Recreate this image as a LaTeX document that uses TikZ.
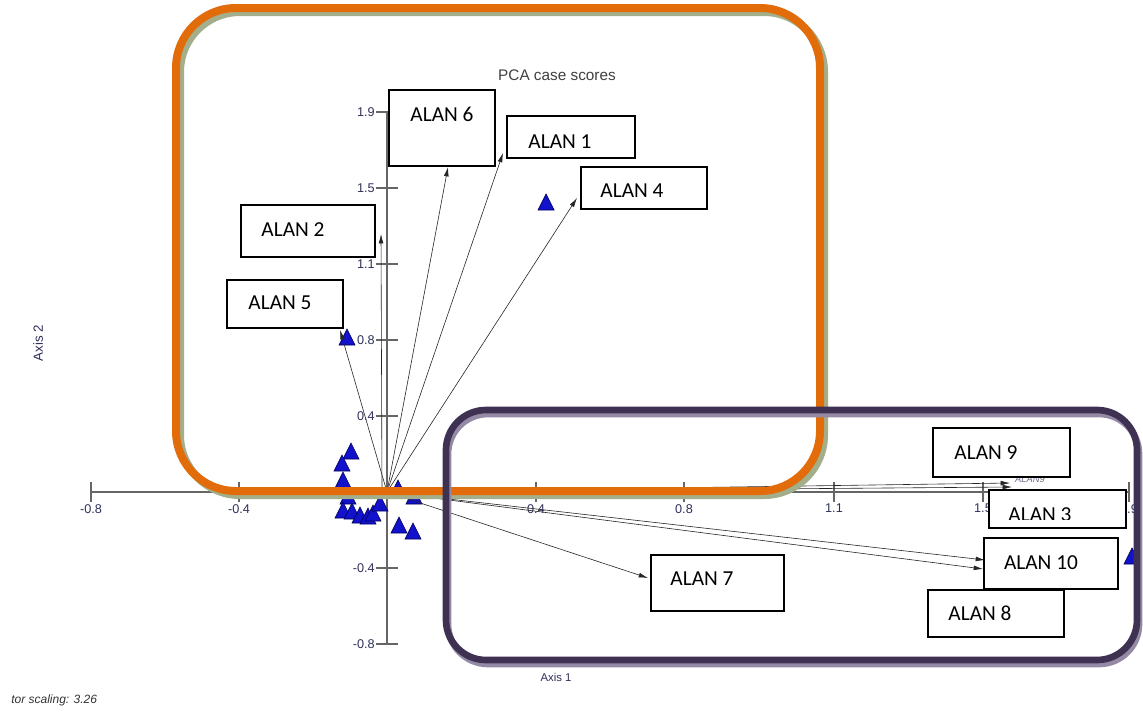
\documentclass[tikz,border=0pt]{standalone}
\usepackage{fontspec}
\setmainfont{Liberation Sans}
\newfontfamily\calfont{Carlito}
\usetikzlibrary{arrows.meta,fit}
\definecolor{orng}{HTML}{E36C0A}
\definecolor{oshadow}{HTML}{A3AE8A}
\definecolor{purp}{HTML}{3E3151}
\definecolor{pshadow}{HTML}{958AA6}
\definecolor{triblue}{HTML}{1212CC}
\definecolor{tridark}{HTML}{00005A}
\definecolor{axcol}{HTML}{666666}
\definecolor{lblcol}{HTML}{30305A}
\begin{document}
\begin{tikzpicture}[x=0.75pt,y=-0.75pt,
  box/.style={draw=black,line width=1.4pt,fill=white,inner sep=0pt},
  alan/.style={font=\calfont\fontsize{16}{18}\selectfont,inner sep=0pt},
  tick/.style={font=\fontsize{9.5}{11}\selectfont,text=lblcol,inner sep=0pt},
  axisline/.style={draw=axcol,line width=0.9pt},
  vec/.style={draw=black!85,line width=0.45pt,-{Latex[length=7pt,width=3.6pt]}},
  tri/.pic={\draw[fill=triblue,draw=tridark,line width=0.5pt] (-8,6)--(8,6)--(0,-10)--cycle;}
]
\clip (0,0) rectangle (1143,711);
\useasboundingbox (0,0) rectangle (1143,711);
\fill[white] (0,0) rectangle (1143,711);

% axes
\coordinate (O) at (387,492);
\coordinate (xl) at (91,492);
\coordinate (xr) at (1129,492);
\coordinate (yt) at (387,112);
\coordinate (yb) at (387,644);
\draw[axisline] (xl) -- (xr);
\draw[axisline] (yt) -- (yb);
\foreach \x/\t in {91/-0.8,239/-0.4,536/0.4,684/0.8,834/1.1,983/1.5,1129/1.9}{
  \draw[axisline] (\x,482) -- (\x,502);
  \node[tick,anchor=north] at (\x,504) {\t};
}
\foreach \y/\t in {112/1.9,188/1.5,264/1.1,340/0.8,416/0.4,568/-0.4,644/-0.8}{
  \draw[axisline] (376,\y) -- (398,\y);
  \node[tick,anchor=east] at (375,\y) {\t};
}
\node[font=\fontsize{11.5}{13}\selectfont,text=black!75] (title) at (557,75) {PCA case scores};
\node[tick,font=\fontsize{8.5}{10}\selectfont] (ax1) at (556,677) {Axis 1};
\node[tick,font=\fontsize{10}{11}\selectfont,rotate=90] (ax2) at (38,343) {Axis 2};
\node[font=\itshape\fontsize{9}{10}\selectfont,text=black!80,anchor=west,inner sep=0pt] (scal) at (11,700) {tor scaling: 3.26};
\node[font=\itshape\fontsize{7}{8}\selectfont,text=lblcol!70,inner sep=0pt] (a9s) at (1030,479) {ALAN9};

% triangles
\foreach \p in {(546,204),(347,339),(1132,558),(351,453),(342,465),(343,482),(348,498),(343,512),(352,513),(360,517),(368,518),(373,515),(380,505),(398,490),(414,498),(399,527),(413,533)}{
  \pic at \p {tri};
}

% vector tips
\coordinate (t6) at (448,167);
\coordinate (t1) at (503,153);
\coordinate (t4) at (577,198);
\coordinate (t2) at (381,234);
\coordinate (t5) at (340,330);
\coordinate (t9) at (1010,483);
\coordinate (t3) at (1012,487);
\coordinate (t10) at (985,560);
\coordinate (t8) at (983,569);
\coordinate (t7) at (648,578);
\foreach \t in {t6,t1,t4,t5,t9,t3,t10,t8,t7}{\draw[vec] (O) -- (\t);}
\draw[vec] (382,492) -- (t2);

% label boxes
\node[box,fit={(389,90)(495,166)}] (b6) {};
\node[alan] (l6) at (442,114) {ALAN 6};
\node[box,fit={(507,116)(635,158)}] (b1) {};
\node[alan] (l1) at (560,142) {ALAN 1};
\node[box,fit={(581,167)(707,209)}] (b4) {};
\node[alan] (l4) at (632,191) {ALAN 4};
\node[box,fit={(241,205)(375,257)}] (b2) {};
\node[alan] (l2) at (293,230) {ALAN 2};
\node[box,fit={(227,280)(343,328)}] (b5) {};
\node[alan] (l5) at (280,303) {ALAN 5};
\node[box,fit={(933,428)(1070,477)}] (b9) {};
\node[alan] (l9) at (986,453) {ALAN 9};
\node[box,fit={(989,490)(1126,528)}] (b3) {};
\begin{scope}
\clip (990,491) rectangle (1125,519);
\node[alan] (l3) at (1040,515) {ALAN 3};
\end{scope}
\node[box,fit={(984,538)(1118,589)}] (b10) {};
\node[alan] (l10) at (1041,563) {ALAN 10};
\node[box,fit={(928,590)(1064,637)}] (b8) {};
\node[alan] (l8) at (980,613) {ALAN 8};
\node[box,fit={(651,555)(784,611)}] (b7) {};
\node[alan] (l7) at (702,579) {ALAN 7};

% highlight frames
\draw[oshadow,line width=6pt,rounded corners=45pt] (180,12) rectangle (824,495);
\draw[orng,line width=6pt,rounded corners=45pt] (176,8) rectangle (820,491);
\draw[pshadow,line width=5pt,rounded corners=30pt] (448,414) rectangle (1139,664);
\draw[purp,line width=5pt,rounded corners=30pt] (446,410) rectangle (1137,660);
\end{tikzpicture}
\end{document}
